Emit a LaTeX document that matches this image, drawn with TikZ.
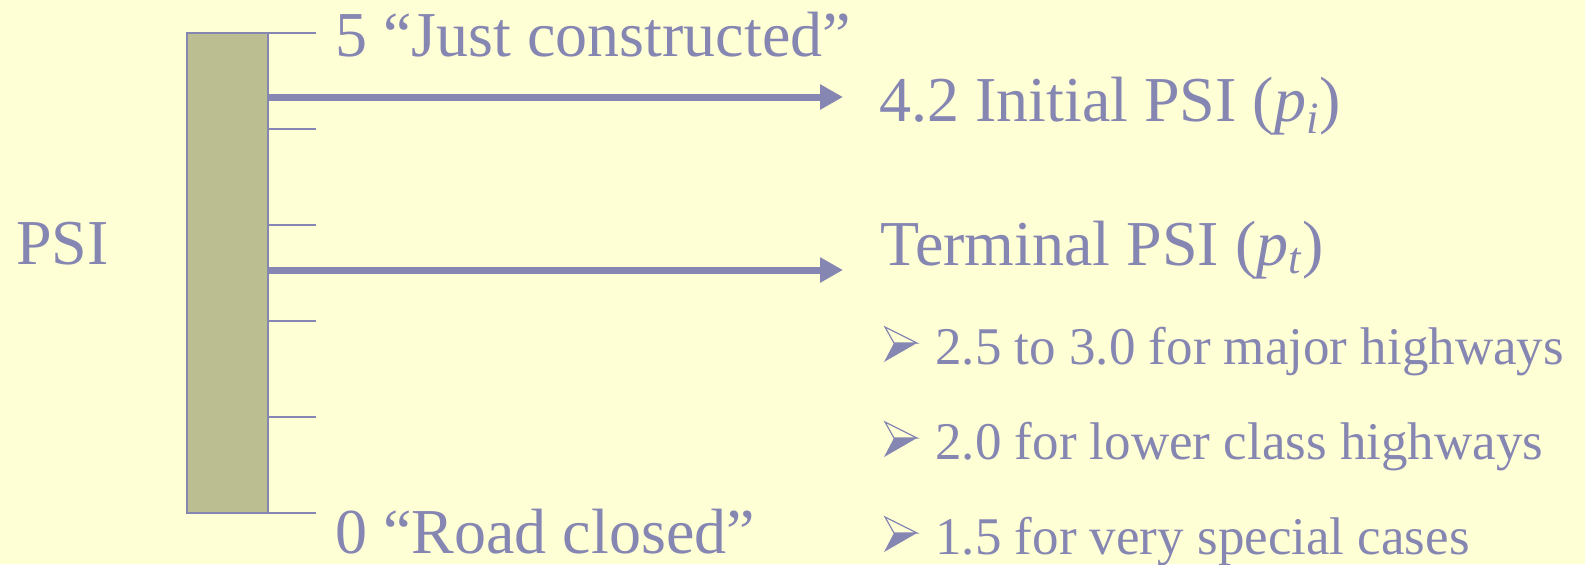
\documentclass[tikz,border=0pt]{standalone}
\usepackage{fontspec}
\setmainfont{Liberation Serif}
\usetikzlibrary{arrows.meta}

\definecolor{paper}{HTML}{FFFFD6}
\definecolor{ink}{HTML}{8686B2}
\definecolor{barfill}{HTML}{BBBE90}

\tikzset{
  big/.style={anchor=base west, inner sep=0pt, text=ink,
    font=\fontsize{32pt}{38pt}\selectfont},
  small/.style={anchor=base west, inner sep=0pt, text=ink,
    font=\fontsize{26.5pt}{32pt}\selectfont},
  scalebar/.style={draw=ink, fill=barfill, line width=1pt, inner sep=0pt,
    minimum width=40.5pt, minimum height=240pt},
  tick/.style={draw=ink, line width=1pt},
  pointer/.style={draw=ink, line width=3.5pt,
    -{Triangle[length=11.5pt,width=12pt,fill=ink]}},
  % three-d arrowhead bullet: light upper half, dark lower half
  pics/arrowbullet/.style={code={
    \fill[ink] (10,-21) -- (33,-21) -- (0,-2) -- cycle;
    \draw[ink, line width=0.6pt, line join=miter] (1,-37) -- (33,-21) -- (10,-21) -- cycle;
  }}
}

\begin{document}
\begin{tikzpicture}[x=0.5pt, y=-0.5pt]
  % canvas
  \fill[paper] (0,0) rectangle (1585,564);
  \useasboundingbox (0,0) rectangle (1585,564);

  % the PSI scale bar
  \node[scalebar] (bar) at (227.5,273) {};

  % tick marks, 5 at the top down to 0 at the bottom
  \foreach \y/\nm in {33/t5, 129/t4, 225/t3, 321/t2, 417/t1, 513/t0} {
    \coordinate (\nm) at (316,\y);
    \draw[tick] (bar.east |- \nm) -- (\nm);
  }

  % arrow end points
  \coordinate (tipA) at (843,97);
  \coordinate (tipB) at (843,270);
  \draw[pointer] (bar.east |- tipA) -- (tipA);
  \draw[pointer] (bar.east |- tipB) -- (tipB);

  % labels
  \node[big] (psi) at (16,264) {PSI};
  \node[big] (top) at (335,56) {5 “Just constructed”};
  \node[big] (bottom) at (335,553) {0 “Road closed”};
  \node[big] (initial) at (879,121) {4.2 Initial PSI (\textit{p}\textsubscript{\textit{i}})};
  \node[big] (terminal) at (880,265) {Terminal PSI (\textit{p}\textsubscript{\textit{t}})};

  % terminal PSI ranges
  \pic at (884,364) {arrowbullet};
  \node[small] (major) at (935,364) {2.5 to 3.0 for major highways};
  \pic at (884,459) {arrowbullet};
  \node[small] (lower) at (935,459) {2.0 for lower class highways};
  \pic at (884,554) {arrowbullet};
  \node[small] (special) at (935,554) {1.5 for very special cases};
\end{tikzpicture}
\end{document}
